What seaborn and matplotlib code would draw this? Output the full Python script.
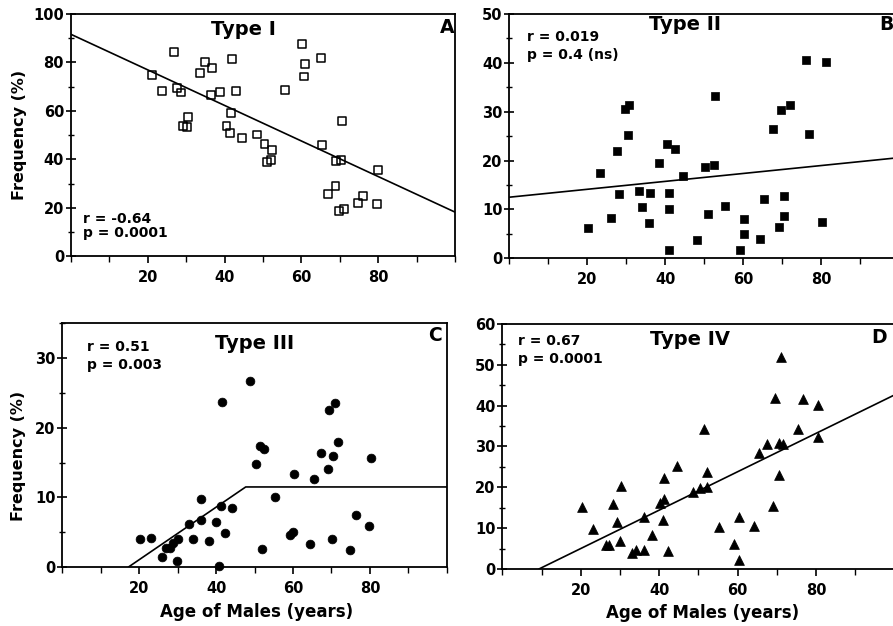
import matplotlib.pyplot as plt
import seaborn as sns
from matplotlib.ticker import MultipleLocator, FixedLocator

sns.set_style("ticks")
plt.rcParams['font.family'] = ['DejaVu Sans']
plt.rcParams['font.weight'] = 'bold'
plt.rcParams['text.color'] = 'black'
plt.rcParams['axes.labelcolor'] = 'black'
plt.rcParams['xtick.color'] = 'black'
plt.rcParams['ytick.color'] = 'black'

# Type I (panel A) - open squares
age_a = [21.0, 23.7, 26.9, 27.7, 28.7, 29.2, 30.5, 30.3, 33.7, 34.8, 36.7, 36.5, 38.7, 41.9,
         43.0, 41.6, 40.5, 41.3, 44.5, 48.5, 50.4, 52.3, 52.1, 51.1, 55.7, 60.1, 60.9, 60.7,
         65.0, 65.4, 70.5, 69.0, 70.3, 67.0, 68.9, 69.9, 71.0, 74.7, 76.1, 79.8, 80.0]
freq_a = [74.8, 68.3, 84.4, 69.3, 67.6, 53.9, 57.6, 53.3, 75.8, 80.2, 77.8, 66.7, 67.8, 81.4,
          68.2, 59.1, 53.9, 50.8, 48.9, 50.3, 46.3, 43.8, 39.7, 39.1, 68.6, 87.5, 79.3, 74.2,
          81.7, 46.1, 55.9, 39.5, 39.9, 25.8, 28.9, 18.7, 19.6, 22.2, 24.8, 21.5, 35.8]
fit_a = (91.6, -0.733)  # intercept, slope

# Type II (panel B) - filled squares
age_b = [20.3, 23.2, 26.2, 27.5, 28.2, 29.7, 30.8, 30.5, 33.2, 34.1, 36.1, 35.9, 38.5, 40.4,
         42.6, 41.0, 41.0, 40.9, 44.5, 48.2, 50.3, 52.5, 52.7, 51.0, 55.3, 60.2, 60.2, 59.1,
         64.4, 65.4, 67.7, 69.6, 72.0, 70.5, 70.4, 69.1, 76.1, 76.8, 81.1, 80.3]
freq_b = [6.1, 17.4, 8.3, 22.0, 13.2, 30.5, 31.3, 25.2, 13.8, 10.5, 13.3, 7.3, 19.6, 23.4,
          22.4, 13.3, 10.0, 1.7, 16.8, 3.8, 18.6, 19.1, 33.3, 9.0, 10.8, 8.0, 5.0, 1.6,
          4.0, 12.1, 26.5, 30.4, 31.3, 12.8, 8.7, 6.4, 40.5, 25.5, 40.1, 7.5]
fit_b = (12.5, 0.081)

# Type III (panel C) - filled circles
age_c = [20.2, 23.0, 26.0, 26.9, 28.0, 28.9, 30.0, 29.7, 33.0, 33.9, 36.0, 36.0, 38.1, 40.0,
         41.2, 42.3, 44.2, 40.8, 41.5, 48.8, 50.4, 51.5, 52.5, 52.0, 55.3, 59.1, 60.1, 60.3,
         64.3, 65.4, 67.4, 69.2, 69.4, 70.8, 70.4, 71.6, 70.2, 74.8, 76.3, 79.9, 80.2]
freq_c = [4.0, 4.2, 1.4, 2.8, 2.8, 3.5, 4.0, 0.9, 6.2, 4.0, 9.7, 6.7, 3.7, 6.4,
          8.7, 4.9, 8.5, 0.1, 23.7, 26.7, 14.8, 17.4, 17.0, 2.6, 10.0, 4.6, 5.1, 13.3,
          3.3, 12.6, 16.4, 14.1, 22.6, 23.5, 16.0, 18.0, 4.0, 2.5, 7.5, 5.9, 15.6]
fit_c_x = [17.2, 47.7, 100]  # broken-line fit
fit_c_y = [0.0, 11.5, 11.5]

# Type IV (panel D) - filled triangles
age_d = [20.4, 23.2, 26.4, 27.2, 28.2, 29.2, 30.1, 30.3, 33.2, 34.1, 36.1, 36.1, 38.2, 40.2,
         41.2, 41.2, 41.1, 42.3, 44.5, 48.6, 50.4, 52.3, 52.1, 51.5, 55.4, 59.2, 60.3, 60.4,
         64.3, 65.6, 67.5, 69.1, 69.6, 70.5, 70.7, 71.5, 71.0, 75.3, 76.8, 80.4, 80.4]
freq_d = [15.1, 9.9, 5.9, 5.9, 16.0, 11.6, 6.8, 20.4, 4.0, 4.7, 4.7, 12.8, 8.2, 16.2,
          17.1, 22.2, 11.9, 4.3, 25.3, 18.9, 19.9, 20.1, 23.8, 34.2, 10.3, 6.0, 2.3, 12.7,
          10.6, 28.3, 30.6, 15.3, 41.9, 23.1, 30.9, 30.5, 51.8, 34.2, 41.6, 40.2, 32.2]
fit_d = (-4.4, 0.47)

x_ticks = [20, 40, 60, 80]

fig = plt.figure(figsize=(8.93, 6.26), dpi=100)
ax_a = fig.add_axes([0.0795, 0.5903, 0.430, 0.3874])
ax_b = fig.add_axes([0.5703, 0.5874, 0.4367, 0.3903])
ax_c = fig.add_axes([0.0698, 0.0942, 0.4305, 0.3893])
ax_d = fig.add_axes([0.5625, 0.0911, 0.4390, 0.3914])


def style_axes(ax, ymax, ymajor):
    ax.set_xlim(0, 100)
    ax.set_ylim(0, ymax)
    ax.xaxis.set_major_locator(FixedLocator(x_ticks))
    ax.xaxis.set_minor_locator(MultipleLocator(10))
    ax.yaxis.set_major_locator(MultipleLocator(ymajor))
    ax.yaxis.set_minor_locator(MultipleLocator(ymajor / 2))
    ax.tick_params(axis='x', which='major', direction='out', length=5, width=1.2,
                   pad=5, labelsize=10.5)
    ax.tick_params(axis='x', which='minor', direction='out', length=4, width=1.0)
    ax.tick_params(axis='y', which='major', direction='inout', length=7, width=1.2,
                   pad=1.5, labelsize=10.5)
    ax.tick_params(axis='y', which='minor', direction='inout', length=4, width=1.0)
    for s in ax.spines.values():
        s.set_visible(True)
        s.set_linewidth(1.3)
        s.set_color('black')
    ax.set_xlabel('')
    ax.set_ylabel('')


def add_texts(ax, title, letter, r_txt, p_txt, pos):
    (tx, ty), (lx, ly), (rx, ry), (px, py) = pos
    ax.text(tx, ty, title, transform=ax.transAxes, ha='center', va='center',
            fontsize=14, fontweight='bold')
    ax.text(lx, ly, letter, transform=ax.transAxes, ha='center', va='center',
            fontsize=13.5, fontweight='bold', clip_on=False)
    ax.text(rx, ry, r_txt, transform=ax.transAxes, ha='left', va='center',
            fontsize=10, fontweight='bold')
    ax.text(px, py, p_txt, transform=ax.transAxes, ha='left', va='center',
            fontsize=10, fontweight='bold')


# Panel A
sns.scatterplot(x=age_a, y=freq_a, ax=ax_a, marker='s', s=32,
                facecolor='none', edgecolor='black', linewidth=1.1, zorder=3)
xs = [0, 100]
ax_a.plot(xs, [fit_a[0] + fit_a[1] * x for x in xs], color='black', lw=1.2)
style_axes(ax_a, 100, 20)
ax_a.set_ylabel('Frequency (%)', fontsize=11.5, fontweight='bold')
ax_a.yaxis.set_label_coords(-0.134, 0.5)
ax_a.yaxis.label.set_va('center')
add_texts(ax_a, 'Type I', 'A', 'r = -0.64', 'p = 0.0001',
          [(0.448, 0.935), (0.979, 0.946), (0.031, 0.155), (0.031, 0.097)])

# Panel B
sns.scatterplot(x=age_b, y=freq_b, ax=ax_b, marker='s', s=34,
                color='black', edgecolor='black', linewidth=0.5, zorder=3)
ax_b.plot(xs, [fit_b[0] + fit_b[1] * x for x in xs], color='black', lw=1.2)
style_axes(ax_b, 50, 10)
add_texts(ax_b, 'Type II', 'B', 'r = 0.019', 'p = 0.4 (ns)',
          [(0.45, 0.958), (0.968, 0.958), (0.045, 0.906), (0.045, 0.832)])

# Panel C
sns.scatterplot(x=age_c, y=freq_c, ax=ax_c, marker='o', s=40,
                color='black', edgecolor='black', linewidth=0.5, zorder=3, clip_on=False)
ax_c.plot(fit_c_x, fit_c_y, color='black', lw=1.2)
style_axes(ax_c, 35, 10)
ax_c.set_ylabel('Frequency (%)', fontsize=11.5, fontweight='bold')
ax_c.yaxis.set_label_coords(-0.114, 0.455)
ax_c.yaxis.label.set_va('center')
ax_c.set_xlabel('Age of Males (years)', fontsize=12, fontweight='bold')
ax_c.xaxis.set_label_coords(0.506, -0.185)
ax_c.xaxis.label.set_va('center')
add_texts(ax_c, 'Type III', 'C', 'r = 0.51', 'p = 0.003',
          [(0.501, 0.919), (0.97, 0.952), (0.064, 0.903), (0.064, 0.829)])

# Panel D
sns.scatterplot(x=age_d, y=freq_d, ax=ax_d, marker='^', s=50,
                color='black', edgecolor='black', linewidth=0.5, zorder=3)
x0_d = -fit_d[0] / fit_d[1]
xs_d = [x0_d, 100]
ax_d.plot(xs_d, [fit_d[0] + fit_d[1] * x for x in xs_d], color='black', lw=1.2)
style_axes(ax_d, 60, 10)
ax_d.set_xlabel('Age of Males (years)', fontsize=12, fontweight='bold')
ax_d.xaxis.set_label_coords(0.512, -0.18)
ax_d.xaxis.label.set_va('center')
add_texts(ax_d, 'Type IV', 'D', 'r = 0.67', 'p = 0.0001',
          [(0.479, 0.935), (0.961, 0.943), (0.04, 0.931), (0.04, 0.857)])

fig.savefig('out.png', dpi=100)
